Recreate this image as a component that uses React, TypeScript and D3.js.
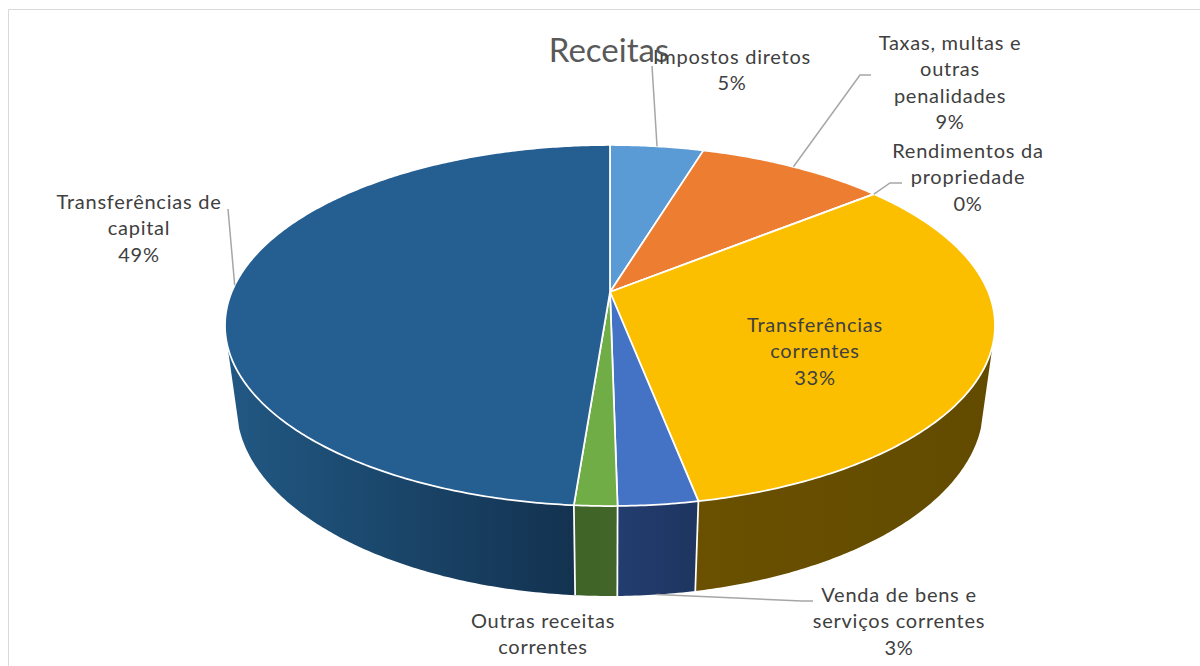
import * as d3 from 'd3';

const categories = [
  'Impostos diretos',
  'Taxas, multas e outras penalidades',
  'Rendimentos da propriedade',
  'Transferências correntes',
  'Venda de bens e serviços correntes',
  'Outras receitas correntes',
  'Transferências de capital',
];
// share of the total
const values = [4.7, 9.5, 0.02, 32.72, 2.8, 1.5, 48.76];
const percentLabels = ['5%', '9%', '0%', '33%', '3%', '2%', '49%'];
const labelLines = [
  ['Impostos diretos'],
  ['Taxas, multas e', 'outras', 'penalidades'],
  ['Rendimentos da', 'propriedade'],
  ['Transferências', 'correntes'],
  ['Venda de bens e', 'serviços correntes'],
  ['Outras receitas', 'correntes'],
  ['Transferências de', 'capital'],
];
const topColors = ['#5b9bd5', '#ed7d31', '#a5a5a5', '#fbbf00', '#4472c4', '#70ad47', '#255e91'];
const wallLeft = ['#3a6a96', '#8f4c1e', '#666666', '#6a5000', '#233d70', '#3f6328', '#215883'];
const wallRight = ['#3a6a96', '#8f4c1e', '#666666', '#624b00', '#1e3560', '#426529', '#133250'];

// label block centre x, first line centre y
const labelX = [732, 950, 968, 815, 899, 543, 139];
const labelY = [56, 42, 150, 324, 594, 620, 201];
// elbow of each leader, from the label side; null when the label sits on its slice
const leaderStart: ([number, number][] | null)[] = [
  [[652, 66]],
  [[871, 75], [860, 75]],
  [[902, 183], [890, 183]],
  null,
  [[813, 601], [802, 601]],
  null,
  [[228, 209]],
];
const leaderOnWall = [false, false, false, false, true, false, false];

const width = 1200;
const height = 666;
const cx = 610;
const cy = 292;
// perspective of the tilted disc
const scaleX = 378.3;
const scaleY = 174.3;
const tilt = 0.1856;
const depthShrink = 0.03;
const depthDrop = 82.4;
const fontFamily = 'Lato, "Open Sans", sans-serif';
const lineHeight = 26.3;

// a: clockwise from the top, z: 0 top rim, 1 bottom rim
function project(a: number, z: number, r = 1): [number, number] {
  const X = Math.sin(a) * r;
  const Y = Math.cos(a) * r;
  const w = 1 + tilt * Y + depthShrink * z;
  return [cx + (scaleX * X) / w, cy + (-scaleY * Y + depthDrop * z) / w];
}

const pie = d3.pie<number>().sort(null).value((d) => d);
const arcs = pie(values);
const line = d3.line();

function rim(a0: number, a1: number, z: number) {
  const n = Math.max(2, Math.ceil((a1 - a0) / 0.01));
  return d3.range(n + 1).map((i) => project(a0 + ((a1 - a0) * i) / n, z));
}

// where the wall's side edge is tangent to both rims
const frontFrom = (107 * Math.PI) / 180;
const frontTo = (253 * Math.PI) / 180;

export default function App() {
  return (
    <svg
      width={width}
      height={height}
      style={{ position: 'absolute', left: 0, top: 0, background: '#fff' }}
    >
      <defs>
        {arcs.map((d, i) => (
          <linearGradient key={i} id={`wall${i}`} x1="0" x2="1" y1="0" y2="0">
            <stop offset="0" stopColor={wallLeft[i]} />
            <stop offset="1" stopColor={wallRight[i]} />
          </linearGradient>
        ))}
      </defs>
      <path d="M1200,9.5H8.5V666" fill="none" stroke="#d9d9d9" strokeWidth={1} />

      <g stroke="#fff" strokeWidth={1.75} strokeLinejoin="round">
        {arcs.map((d, i) => {
          const a0 = Math.max(d.startAngle, frontFrom);
          const a1 = Math.min(d.endAngle, frontTo);
          if (a1 <= a0) return null;
          const pts = [...rim(a0, a1, 0), ...rim(a0, a1, 1).reverse()];
          return <path key={i} d={line(pts) + 'Z'} fill={`url(#wall${i})`} stroke="none" />;
        })}
        {/* white separators between the visible wall sections */}
        {arcs.slice(0, -1).map((d, i) => {
          if (d.endAngle <= frontFrom || d.endAngle >= frontTo) return null;
          return <path key={i} d={line([project(d.endAngle, 0), project(d.endAngle, 1)]) ?? ''} />;
        })}
        {arcs.map((d, i) => (
          <path
            key={i}
            d={line([[cx, cy], ...rim(d.startAngle, d.endAngle, 0)]) + 'Z'}
            fill={topColors[i]}
          />
        ))}
      </g>

      <g fill="none" stroke="#a6a6a6" strokeWidth={1.5}>
        {arcs.map((d, i) => {
          const start = leaderStart[i];
          if (!start) return null;
          const end = project((d.startAngle + d.endAngle) / 2, leaderOnWall[i] ? 1 : 0);
          return <path key={i} d={line([...start, end]) ?? ''} />;
        })}
      </g>

      <text x={609} y={62} textAnchor="middle" fontFamily={fontFamily} fontSize={33} fill="#595959">
        Receitas
      </text>

      <g fontFamily={fontFamily} fontSize={20} fill="#404040" textAnchor="middle">
        {categories.map((name, i) => (
          <text key={name} x={labelX[i]} y={labelY[i]} style={{ letterSpacing: '0.75px' }}>
            {[...labelLines[i], percentLabels[i]].map((t, j) => (
              <tspan key={j} x={labelX[i]} y={labelY[i] + j * lineHeight} dominantBaseline="central">
                {t}
              </tspan>
            ))}
          </text>
        ))}
      </g>
    </svg>
  );
}
